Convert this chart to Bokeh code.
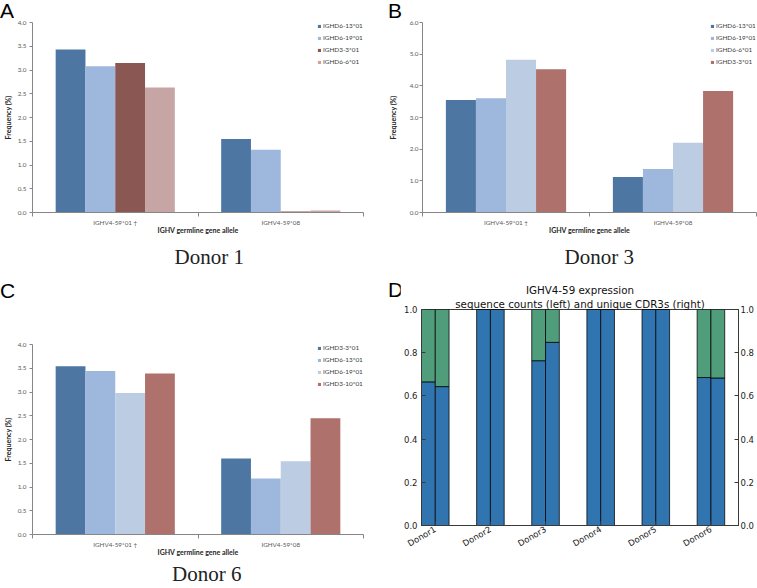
import math
from bokeh.plotting import figure
from bokeh.models import (ColumnDataSource, Legend, LegendItem, Title, Div, FixedTicker,
                          SingleIntervalTicker, PrintfTickFormatter, LinearAxis, Range1d)
from bokeh.layouts import row, column
from bokeh.embed import file_html
from bokeh.resources import INLINE

# ---------------- data ----------------
alleles = ["IGHV4-59*01 \u2020", "IGHV4-59*08"]

donor1_series = ["IGHD6-13*01", "IGHD6-19*01", "IGHD3-3*01", "IGHD6-6*01"]
donor1_ighd6_13 = [3.43, 1.55]
donor1_ighd6_19 = [3.08, 1.32]
donor1_ighd3_3 = [3.15, 0.02]
donor1_ighd6_6 = [2.63, 0.04]

donor3_series = ["IGHD6-13*01", "IGHD6-19*01", "IGHD6-6*01", "IGHD3-3*01"]
donor3_ighd6_13 = [3.55, 1.12]
donor3_ighd6_19 = [3.61, 1.37]
donor3_ighd6_6 = [4.82, 2.20]
donor3_ighd3_3 = [4.52, 3.84]

donor6_series = ["IGHD3-3*01", "IGHD6-13*01", "IGHD6-19*01", "IGHD3-10*01"]
donor6_ighd3_3 = [3.54, 1.60]
donor6_ighd6_13 = [3.44, 1.18]
donor6_ighd6_19 = [2.98, 1.54]
donor6_ighd3_10 = [3.39, 2.45]

donors = ["Donor1", "Donor2", "Donor3", "Donor4", "Donor5", "Donor6"]
seq_count_frac = [0.665, 1.0, 0.763, 1.0, 1.0, 0.685]
unique_cdr3_frac = [0.643, 1.0, 0.848, 1.0, 1.0, 0.683]

# ---------------- styles ----------------
SANS = "Lato"
DARKBLUE = "#4E76A2"
LIGHTBLUE = "#9DB7DD"
PALEBLUE = "#BBCCE3"
BROWN = "#8B5752"
PINK = "#C6A5A4"
RED = "#AE716B"
AXIS_GRAY = "#868686"
MPL_BLUE = "#3175B0"
MPL_GREEN = "#509D7B"


def text_div(text, width, height, left, top, font, size, color="#000000"):
    html = ('<span style="position:relative; display:inline-block; white-space:nowrap; '
            'left:%dpx; top:%dpx; font-family:\'%s\'; font-size:%s; line-height:%s; color:%s;">%s</span>'
            % (left, top, font, size, size, color, text))
    return Div(text=html, width=width, height=height, margin=0)


def excel_panel(width, height, borders, ymax, ystep, series, values, colors,
                donor, donor_offset, donor_standoff, tick_standoff, ylabel_standoff):
    bl, br, bt, bb = borders
    p = figure(width=width, height=height, x_range=Range1d(0, len(alleles)),
               y_range=Range1d(0, ymax), output_backend="svg", toolbar_location=None,
               title=None, min_border_left=bl, min_border_right=br,
               min_border_top=bt, min_border_bottom=bb)
    p.xgrid.visible = False
    p.ygrid.visible = False
    p.outline_line_color = None
    n = len(series)
    bw = 0.18
    items = []
    for j, (name, vals, col) in enumerate(zip(series, values, colors)):
        xs = [i + 0.5 + (j - (n - 1) / 2) * bw for i in range(len(alleles))]
        src = ColumnDataSource(dict(x=xs, top=vals))
        r = p.vbar(x="x", top="top", width=bw, source=src, fill_color=col, line_color=None)
        items.append(LegendItem(label=name, renderers=[r]))

    legend = Legend(items=items, location="top_right",
                    glyph_width=4, glyph_height=4, label_height=4, label_width=40,
                    label_standoff=2, spacing=5, padding=0, margin=0,
                    border_line_color=None, background_fill_alpha=0,
                    label_text_font=SANS, label_text_font_size="6.4px",
                    label_text_color="#404040")
    p.add_layout(legend)

    xa = p.xaxis[0]
    xa.ticker = FixedTicker(ticks=[i + 0.5 for i in range(len(alleles))],
                            minor_ticks=list(range(len(alleles) + 1)))
    xa.major_label_overrides = {i + 0.5: a for i, a in enumerate(alleles)}
    xa.major_tick_line_color = None
    xa.major_tick_out = 0
    xa.major_tick_in = 0
    xa.minor_tick_out = 4
    xa.minor_tick_in = 0
    xa.minor_tick_line_color = AXIS_GRAY
    xa.axis_line_color = AXIS_GRAY
    xa.major_label_standoff = 2
    xa.major_label_text_font = SANS
    xa.major_label_text_font_size = "6.3px"
    xa.major_label_text_color = "#595959"
    xa.axis_label = "IGHV germline gene allele"
    xa.axis_label_standoff = -3
    xa.axis_label_text_font = SANS
    xa.axis_label_text_font_style = "bold"
    xa.axis_label_text_font_size = "7px"
    xa.axis_label_text_color = "#262626"

    ya = p.yaxis[0]
    ya.ticker = SingleIntervalTicker(interval=ystep, num_minor_ticks=0)
    ya.formatter = PrintfTickFormatter(format="%.1f")
    ya.major_tick_out = 3
    ya.major_tick_in = 0
    ya.minor_tick_line_color = None
    ya.major_tick_line_color = AXIS_GRAY
    ya.axis_line_color = AXIS_GRAY
    ya.major_label_standoff = tick_standoff
    ya.major_label_text_font = SANS
    ya.major_label_text_font_size = "6.3px"
    ya.major_label_text_color = "#595959"
    ya.axis_label = "Frequency (%)"
    ya.axis_label_standoff = ylabel_standoff
    ya.axis_label_text_font = SANS
    ya.axis_label_text_font_style = "bold"
    ya.axis_label_text_font_size = "7px"
    ya.axis_label_text_color = "#262626"

    if donor is not None:
        p.add_layout(Title(text=donor, align="left", offset=donor_offset, standoff=donor_standoff,
                           text_font="Liberation Serif", text_font_size="21px",
                           text_font_style="normal", text_color="#222222"), "below")
    return p


pA = excel_panel(378, 262, (30, 15, 4, 68), 4.0, 0.5, donor1_series,
                 [donor1_ighd6_13, donor1_ighd6_19, donor1_ighd3_3, donor1_ighd6_6],
                 [DARKBLUE, LIGHTBLUE, BROWN, PINK],
                 "Donor 1", 142, 13, 3, 3)

pB = excel_panel(379, 262, (44, 1, 4, 68), 6.0, 1.0, donor3_series,
                 [donor3_ighd6_13, donor3_ighd6_19, donor3_ighd6_6, donor3_ighd3_3],
                 [DARKBLUE, LIGHTBLUE, PALEBLUE, RED],
                 "Donor 3", 142, 13, 1, 10)

pC = excel_panel(378, 262, (30, 15, 46, 26), 4.0, 0.5, donor6_series,
                 [donor6_ighd3_3, donor6_ighd6_13, donor6_ighd6_19, donor6_ighd3_10],
                 [DARKBLUE, LIGHTBLUE, PALEBLUE, RED],
                 None, 0, 0, 3, 3)

# ---------------- panel D ----------------
pD = figure(width=357, height=308, x_range=Range1d(0, 5.75), y_range=Range1d(0, 1),
            output_backend="svg", toolbar_location=None, title=None,
            min_border_left=19, min_border_right=18, min_border_top=29, min_border_bottom=63)
pD.xgrid.visible = False
pD.ygrid.visible = False
pD.outline_line_color = "#3a3a3a"
pD.outline_line_width = 1

for k, fracs in enumerate([seq_count_frac, unique_cdr3_frac]):
    xs = [i + 0.125 + 0.25 * k for i in range(len(donors))]
    src = ColumnDataSource(dict(x=xs, frac=fracs, rest_top=[1.0] * len(fracs)))
    pD.vbar(x="x", bottom=0, top="frac", width=0.25, source=src, fill_color=MPL_BLUE,
            line_color="#000000", line_alpha=0.75, line_width=1)
    pD.vbar(x="x", bottom="frac", top="rest_top", width=0.25, source=src, fill_color=MPL_GREEN,
            line_color="#000000", line_alpha=0.75, line_width=1)

DEJ = "DejaVu Sans"
xa = pD.xaxis[0]
xa.ticker = FixedTicker(ticks=[i + 0.25 for i in range(len(donors))], minor_ticks=[])
xa.major_label_overrides = {i + 0.25: d for i, d in enumerate(donors)}
xa.major_label_orientation = math.pi / 6
xa.major_tick_out = 0
xa.major_tick_in = 4
xa.major_tick_line_color = "#3a3a3a"
xa.minor_tick_line_color = None
xa.axis_line_color = "#3a3a3a"
xa.major_label_standoff = 3
xa.major_label_text_font = DEJ
xa.major_label_text_font_size = "8.5px"
xa.major_label_text_color = "#222222"

ya = pD.yaxis[0]
ya.ticker = SingleIntervalTicker(interval=0.2, num_minor_ticks=0)
ya.formatter = PrintfTickFormatter(format="%.1f")
ya.major_tick_out = 0
ya.major_tick_in = 4
ya.major_tick_line_color = "#3a3a3a"
ya.minor_tick_line_color = None
ya.axis_line_color = "#3a3a3a"
ya.major_label_standoff = 4
ya.major_label_text_font = DEJ
ya.major_label_text_font_size = "8.5px"
ya.major_label_text_color = "#222222"

ra = LinearAxis(ticker=SingleIntervalTicker(interval=0.2, num_minor_ticks=0),
                formatter=PrintfTickFormatter(format="%.1f"))
ra.major_tick_out = 0
ra.major_tick_in = 4
ra.major_tick_line_color = "#3a3a3a"
ra.minor_tick_line_color = None
ra.axis_line_color = "#3a3a3a"
ra.major_label_standoff = 2
ra.major_label_text_font = DEJ
ra.major_label_text_font_size = "8.5px"
ra.major_label_text_color = "#222222"
pD.add_layout(ra, "right")

pD.add_layout(Title(text="sequence counts (left) and unique CDR3s (right)",
                    align="center", standoff=0, text_font=DEJ, text_font_size="10.3px",
                    text_font_style="normal", text_color="#111111"), "above")
pD.add_layout(Title(text="IGHV4-59 expression",
                    align="center", standoff=0, text_font=DEJ, text_font_size="10.3px",
                    text_font_style="normal", text_color="#111111"), "above")

# ---------------- panel letters / captions ----------------
div_a = text_div("A", 378, 18, 0, 0, "Liberation Sans", "21px")
div_b = text_div("B", 379, 18, 10, 0, "Liberation Sans", "21px")
div_c = text_div("C", 378, 18, 0, 0, "Liberation Sans", "21px")
div_d = text_div("D", 22, 308, 10, -1, "Liberation Sans", "21px")
div_donor6 = text_div("Donor 6", 378, 28, 172, 4, "Liberation Serif", "21px", "#222222")

layout = column(
    row(column(div_a, pA), column(div_b, pB)),
    row(column(div_c, pC, div_donor6), row(div_d, pD)),
)

open("out.html", "w").write(file_html(layout, INLINE))
